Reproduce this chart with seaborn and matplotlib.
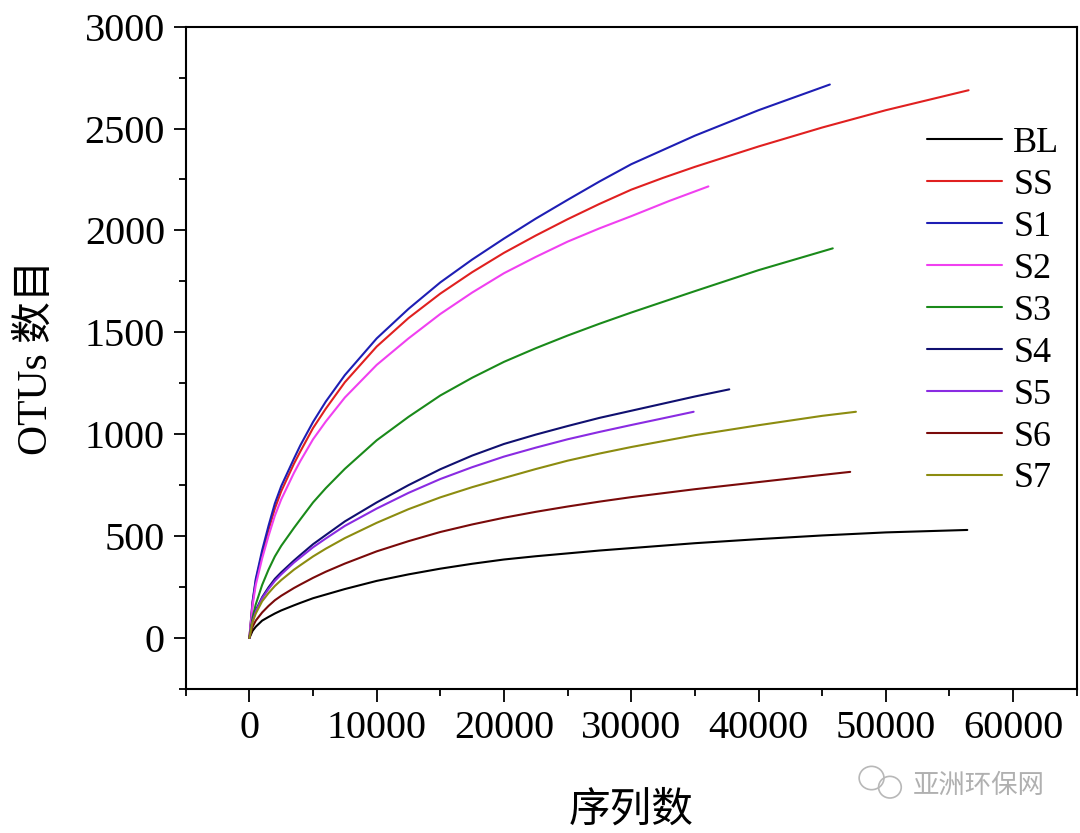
import numpy as np
import pandas as pd
import matplotlib
matplotlib.use("Agg")
import matplotlib.pyplot as plt
from matplotlib.patches import Ellipse
from matplotlib.ticker import MultipleLocator
import seaborn as sns

### values (sequences -> OTUs)
samples = ["BL", "SS", "S1", "S2", "S3", "S4", "S5", "S6", "S7"]

# sequence depths shared by every curve up to 30000
head_x = [0, 250, 500, 1000, 1500, 2000, 2500, 3500, 4000, 5000, 6000, 7500,
          10000, 12500, 15000, 17500, 20000, 22500, 25000, 27500, 30000]

bl_x = head_x + [35000, 40000, 45000, 50000, 56400]
bl_y = [0, 35, 55, 85, 103, 120, 135, 160, 172, 195, 213, 240,
        280, 312, 340, 364, 385, 401, 415, 429, 441] + [465, 485, 503, 518, 530]

ss_x = head_x + [32500, 35000, 40000, 45000, 50000, 56500]
ss_y = [0, 175, 280, 415, 530, 635, 720, 855, 915, 1030, 1125, 1255,
        1430, 1570, 1690, 1795, 1890, 1975, 2055, 2130, 2200] + [2258, 2312, 2412, 2505, 2590, 2688]

s1_x = head_x + [35000, 40000, 45600]
s1_y = [0, 180, 290, 430, 550, 660, 745, 880, 945, 1060, 1160, 1290,
        1470, 1615, 1745, 1857, 1960, 2058, 2150, 2240, 2325] + [2465, 2590, 2716]

s2_x = head_x + [33000, 36060]
s2_y = [0, 160, 260, 390, 500, 600, 680, 810, 868, 975, 1062, 1180,
        1340, 1470, 1590, 1695, 1790, 1870, 1945, 2010, 2070] + [2145, 2216]

s3_x = head_x + [35000, 40000, 45830]
s3_y = [0, 100, 165, 260, 335, 400, 452, 540, 582, 665, 735, 830,
        970, 1085, 1190, 1277, 1355, 1422, 1484, 1542, 1597] + [1702, 1805, 1912]

s4_x = head_x + [32500, 35000, 37700]
s4_y = [0, 85, 135, 200, 248, 290, 322, 380, 407, 460, 505, 572,
        665, 750, 828, 895, 952, 998, 1040, 1080, 1115] + [1150, 1185, 1220]

s5_x = head_x + [32500, 34900]
s5_y = [0, 82, 130, 195, 240, 280, 312, 370, 395, 445, 488, 550,
        635, 712, 780, 838, 890, 934, 975, 1011, 1045] + [1078, 1110]

s6_x = head_x + [35000, 40000, 45000, 47200]
s6_y = [0, 55, 85, 125, 157, 185, 207, 245, 262, 295, 325, 365,
        425, 475, 520, 557, 590, 619, 645, 669, 691] + [730, 765, 800, 815]

s7_x = head_x + [35000, 40000, 45000, 47650]
s7_y = [0, 78, 120, 180, 220, 255, 284, 335, 357, 400, 438, 490,
        565, 632, 690, 740, 785, 829, 870, 905, 937] + [995, 1044, 1090, 1110]

colors = ["#000000", "#E02020", "#1E1EB4", "#F040F0", "#1A8A1A", "#101070", "#8A2BE2", "#7A0A0A", "#8C8C10"]

xs = [bl_x, ss_x, s1_x, s2_x, s3_x, s4_x, s5_x, s6_x, s7_x]
ys = [bl_y, ss_y, s1_y, s2_y, s3_y, s4_y, s5_y, s6_y, s7_y]
df = pd.concat([pd.DataFrame({"seq": x, "otu": y, "sample": s}) for s, x, y in zip(samples, xs, ys)],
               ignore_index=True)

sns.set_theme(style="ticks")
plt.rcParams["font.family"] = ["Liberation Serif", "Noto Sans CJK SC"]
plt.rcParams["axes.linewidth"] = 1.5
plt.rcParams["text.color"] = "black"
plt.rcParams["axes.labelcolor"] = "black"

fig = plt.figure(figsize=(10.8, 8.33), dpi=100)
ax = fig.add_axes([0.172, 0.173, 0.825, 0.795])

sns.lineplot(data=df, x="seq", y="otu", hue="sample", hue_order=samples,
             palette=dict(zip(samples, colors)), estimator=None, sort=False,
             linewidth=1.5, ax=ax, legend=False)

ax.set_xlim(-5000, 65000)
ax.set_ylim(-250, 3000)
ax.xaxis.set_major_locator(MultipleLocator(10000))
ax.xaxis.set_minor_locator(MultipleLocator(5000))
ax.yaxis.set_major_locator(MultipleLocator(500))
ax.yaxis.set_minor_locator(MultipleLocator(250))
ax.tick_params(which="major", direction="out", length=9, width=1.3, labelsize=29, pad=6,
               colors="black", labelcolor="black")
ax.tick_params(which="minor", direction="out", length=5, width=1.3, colors="black")
ax.tick_params(top=False, right=False, which="both")
for sp in ax.spines.values():
    sp.set_color("black")

ax.set_xlabel("序列数", fontsize=30, labelpad=33, color="black")
ax.set_ylabel("OTUs 数目", fontsize=30, labelpad=21, color="black")

handles = [plt.Line2D([], [], color=c, lw=1.5) for c in colors]
leg = fig.legend(handles, samples, loc="upper left", bbox_to_anchor=(0.858, 0.848),
                 frameon=False, fontsize=26, handlelength=2.1, handletextpad=0.3,
                 labelspacing=0.24, borderpad=0, borderaxespad=0)
for t in leg.get_texts():
    t.set_color("black")

# watermark
fig.text(0.845, 0.057, "亚洲环保网", fontsize=19, color="#b0b0b0",
         family=["Noto Sans CJK SC", "DejaVu Sans"], va="center")
fig.patches.append(Ellipse((0.807, 0.066), 0.023, 0.028, transform=fig.transFigure,
                           fill=False, ec="#b8b8b8", lw=1.2))
fig.patches.append(Ellipse((0.824, 0.055), 0.021, 0.026, transform=fig.transFigure,
                           fill=False, ec="#b8b8b8", lw=1.2))

fig.savefig("out.png", dpi=100, facecolor="white")
